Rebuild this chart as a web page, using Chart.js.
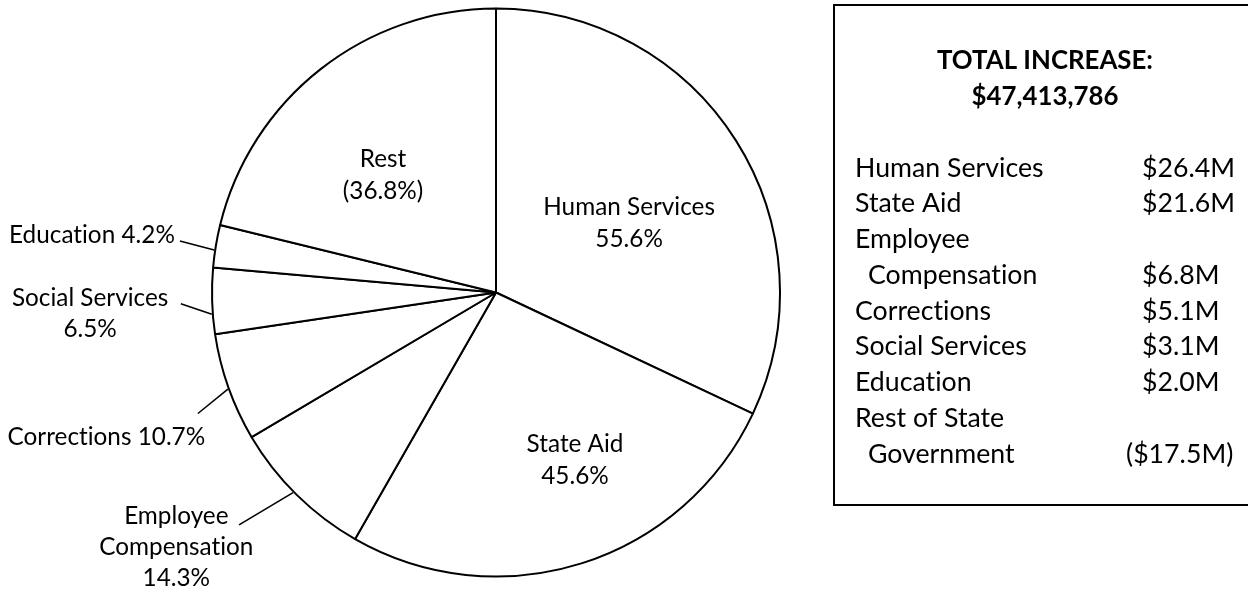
<!DOCTYPE html>
<html>
<head>
<meta charset="utf-8">
<title>Total Increase by Area</title>
<script src="https://cdn.jsdelivr.net/npm/chart.js@4/dist/chart.umd.min.js"></script>
<style>
  html, body { margin: 0; padding: 0; background: #ffffff; overflow: hidden; }
  canvas { display: block; background: #ffffff; }
</style>
</head>
<body>
<canvas id="pie" width="1248" height="590"></canvas>
<script>
// ---- data ----
const categories = ['Human Services', 'State Aid', 'Employee Compensation', 'Corrections', 'Social Services', 'Education', 'Rest'];
const sharePct = [55.6, 45.6, 14.3, 10.7, 6.5, 4.2, -36.8];

const summaryTitle = ['TOTAL INCREASE:', '$47,413,786'];
const summaryNames = [['Human Services'], ['State Aid'], ['Employee', 'Compensation'], ['Corrections'], ['Social Services'], ['Education'], ['Rest of State', 'Government']];
const summaryAmounts = [26.4, 21.6, 6.8, 5.1, 3.1, 2.0, -17.5];

// ---- text helpers ----
const FONT = 'Lato, "Open Sans", sans-serif';
const fmtPct = v => v < 0 ? '(' + Math.abs(v).toFixed(1) + '%)' : v.toFixed(1) + '%';
const fmtAmt = v => v < 0 ? '($' + Math.abs(v).toFixed(1) + 'M)' : '$' + v.toFixed(1) + 'M';

// a tiny letter spacing keeps "ti"/"fi" from being drawn as ligatures
function plainText(ctx) {
  if ('letterSpacing' in ctx) ctx.letterSpacing = '0.01px';
}

// how each slice label is laid out (line breaks, placement)
const labelStyle = {
  'Human Services':        { inside: true, lines: n => ['Human Services', n], f: 0.555, dx: 0, dy: -1.5 },
  'State Aid':             { inside: true, lines: n => ['State Aid', n], f: 0.555, dx: 31.6, dy: 0.7 },
  'Rest':                  { inside: true, lines: n => ['Rest', n], f: 0.555, dx: -15.6, dy: -10.1 },
  'Education':             { lines: n => ['Education ' + n], dA: -0.8, lead: [-34.3, -9], align: 'right', tx: -5, ty: 2 },
  'Social Services':       { lines: n => ['Social Services', n], dA: -2.65, lead: [-31, -10.3], align: 'center', tx: -90.7, ty: 2 },
  'Corrections':           { lines: n => ['Corrections ' + n], dA: -0.3, lead: [-30, 24.3], align: 'right', tx: 7.3, ty: 31.4 },
  'Employee Compensation': { lines: n => ['Employee', 'Compensation', n], dA: 0.85, lead: [-54, 32.3], align: 'center', tx: -62.7, ty: -1.3 }
};

const sliceLabels = {
  id: 'sliceLabels',
  afterDatasetsDraw(chart) {
    const ctx = chart.ctx;
    const arcs = chart.getDatasetMeta(0).data;
    ctx.save();
    plainText(ctx);
    ctx.fillStyle = '#000';
    ctx.strokeStyle = '#000';
    ctx.lineWidth = 1.6;
    ctx.textBaseline = 'alphabetic';
    ctx.font = '24.3px ' + FONT;
    arcs.forEach((arc, i) => {
      const st = labelStyle[categories[i]];
      const lines = st.lines(fmtPct(sharePct[i]));
      const mid = (arc.startAngle + arc.endAngle) / 2;
      if (st.inside) {
        const r = arc.outerRadius * st.f;
        const x = arc.x + Math.cos(mid) * r + st.dx;
        const y = arc.y + Math.sin(mid) * r + st.dy + 8.5;
        ctx.textAlign = 'center';
        lines.forEach((t, k) => ctx.fillText(t, x, y + k * 32));
      } else {
        const a = mid + st.dA * Math.PI / 180;
        const ex = arc.x + Math.cos(a) * (arc.outerRadius + 1);
        const ey = arc.y + Math.sin(a) * (arc.outerRadius + 1);
        const ox = ex + st.lead[0];
        const oy = ey + st.lead[1];
        ctx.beginPath();
        ctx.moveTo(ex, ey);
        ctx.lineTo(ox, oy);
        ctx.stroke();
        ctx.textAlign = st.align;
        lines.forEach((t, k) => ctx.fillText(t, ox + st.tx, oy + st.ty + k * 31));
      }
    });
    ctx.restore();
  }
};

// summary panel on the right
const summaryPanel = {
  id: 'summaryPanel',
  afterDraw(chart) {
    const ctx = chart.ctx;
    ctx.save();
    plainText(ctx);
    ctx.strokeStyle = '#000';
    ctx.lineWidth = 2;
    ctx.strokeRect(834, 5, 430, 500);
    ctx.fillStyle = '#000';
    ctx.textBaseline = 'alphabetic';
    ctx.textAlign = 'center';
    ctx.font = 'bold 25.8px ' + FONT;
    summaryTitle.forEach((t, k) => ctx.fillText(t, 1045, 69 + k * 36));
    ctx.font = '26.7px ' + FONT;
    let row = 0;
    const step = 35.75;
    summaryNames.forEach((name, i) => {
      name.forEach((part, k) => {
        ctx.textAlign = 'left';
        ctx.fillText(part, k === 0 ? 855 : 868, 176.7 + row * step);
        if (k === name.length - 1) {
          const v = summaryAmounts[i];
          ctx.fillText(fmtAmt(v), v < 0 ? 1126 : 1142, 176.7 + row * step);
        }
        row++;
      });
    });
    ctx.restore();
  }
};

new Chart(document.getElementById('pie'), {
  type: 'pie',
  data: {
    labels: categories,
    datasets: [{
      data: sharePct.map(v => Math.abs(v)),
      backgroundColor: '#ffffff',
      borderColor: '#000000',
      borderWidth: 2,
      hoverOffset: 0,
      offset: 0
    }]
  },
  options: {
    responsive: false,
    animation: false,
    events: [],
    layout: { padding: { left: 211, right: 467, top: 7, bottom: 12 } },
    plugins: {
      legend: { display: false },
      tooltip: { enabled: false },
      title: { display: false }
    }
  },
  plugins: [sliceLabels, summaryPanel]
});
</script>
</body>
</html>
